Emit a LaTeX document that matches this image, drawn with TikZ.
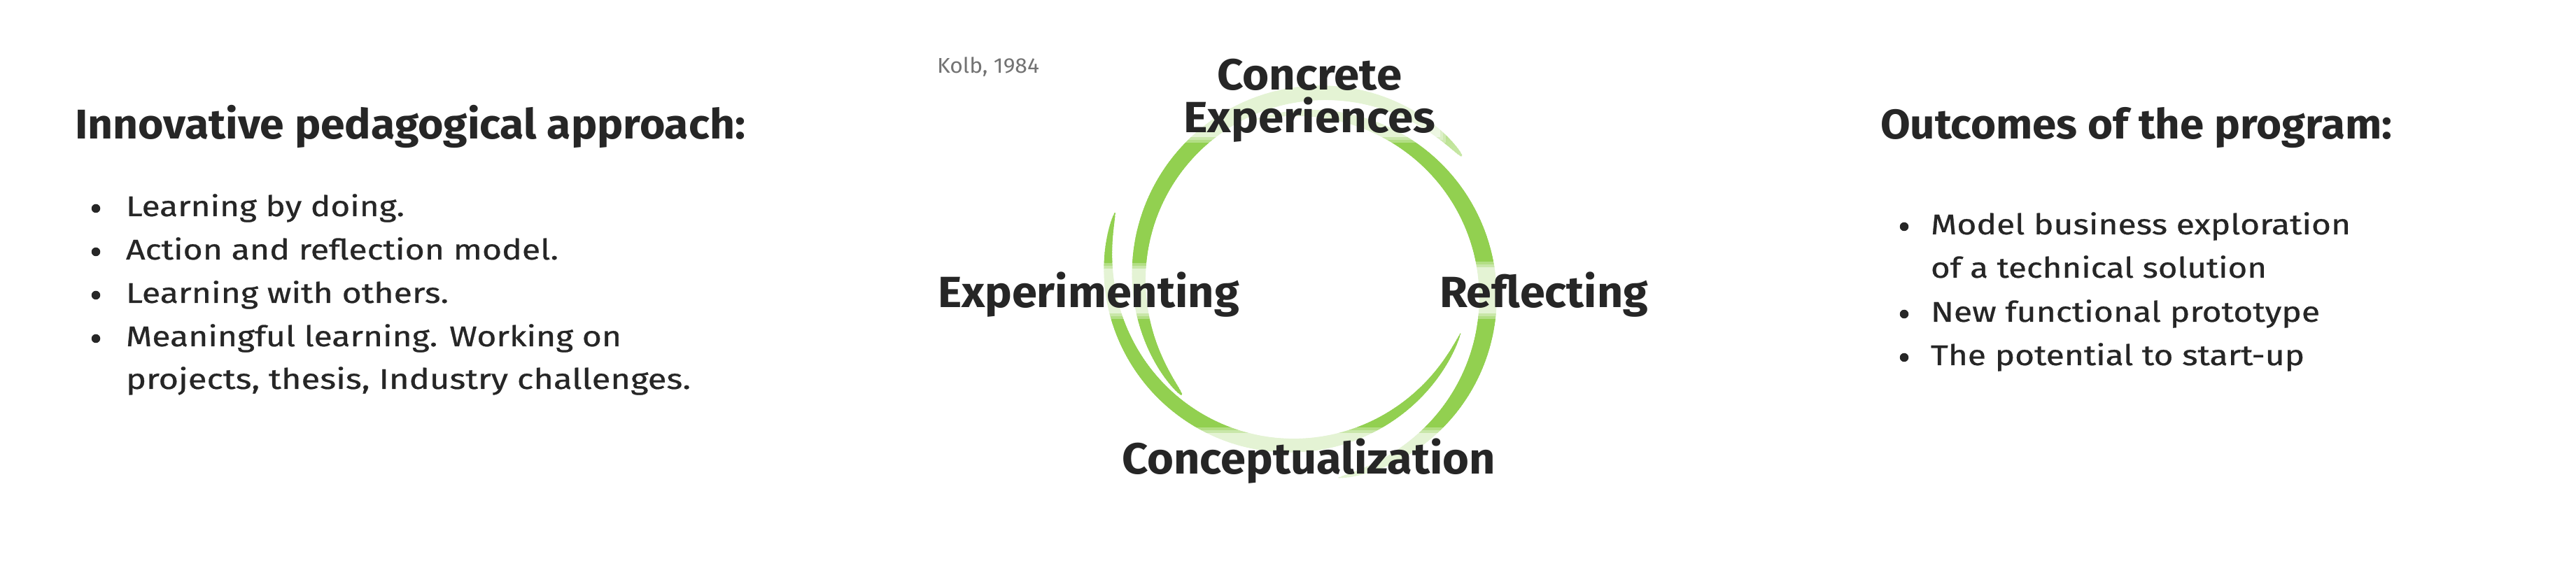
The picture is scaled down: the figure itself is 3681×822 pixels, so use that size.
\documentclass[tikz,border=0pt]{standalone}
\usepackage{fontspec}
\setmainfont{Fira Sans}
\usepackage{graphicx}
\definecolor{ink}{HTML}{262626}
\definecolor{leaf}{HTML}{92D050}
\definecolor{note}{HTML}{737373}
\newdimen\upx \upx=0.01cm
\newcommand{\fitw}[2]{\resizebox{#1\upx}{\height}{#2}}
% tapered brush stroke along a circle: cx cy r th0 th1 wmax skew power fadestart
\newcommand{\swoosh}[9]{%
  \foreach \i in {0,...,179}{%
    \pgfmathsetmacro{\sTa}{#4+(#5-#4)*(\i/180)}%
    \pgfmathsetmacro{\sTb}{#4+(#5-#4)*((\i+1)/180)}%
    \pgfmathsetmacro{\sTm}{(\i+0.5)/180}%
    \pgfmathsetmacro{\sW}{#6*(sin(180*(\sTm^#7)))^#8*0.28453}%
    \pgfmathtruncatemacro{\sC}{100-50*max(0,\sTm-#9)/(1.001-#9)}%
    \draw[line width=\sW pt, color=leaf!\sC!white, line cap=round]
      ({#1+#3*cos(\sTa)},{#2+#3*sin(\sTa)}) -- ({#1+#3*cos(\sTb)},{#2+#3*sin(\sTb)});
  }}
\newcommand{\halo}[4]{%
  \fill[white, opacity=0.3] (#1-4,#2-4) rectangle (#3+4,#4+4);
  \fill[white, opacity=0.3] (#1,#2) rectangle (#3,#4);
  \fill[white, opacity=0.5] (#1+4,#2+4) rectangle (#3-4,#4-4);}
\begin{document}
\begin{tikzpicture}[x=0.01cm, y=-0.01cm,
  hd/.style={inner sep=0, outer sep=0, anchor=base west, text=ink,
    font=\fontsize{16.9pt}{20pt}\selectfont\bfseries},
  bd/.style={inner sep=0, outer sep=0, anchor=base west, text=ink,
    font=\fontsize{11.56pt}{14pt}\selectfont\addfontfeature{FakeBold=0.6}},
  lbl/.style={inner sep=0, outer sep=0, anchor=base, text=ink,
    font=\fontsize{17.76pt}{20pt}\selectfont\bfseries},
  cite/.style={inner sep=0, outer sep=0, anchor=base west, text=note,
    font=\fontsize{8.67pt}{10pt}\selectfont},
  dot/.style={circle, fill=ink, inner sep=0, minimum size=12.5\upx}]
\fill[white] (0,0) rectangle (3681,822);
\useasboundingbox (0,0) rectangle (3681,822);

% brush ring (three tapered strokes)
\swoosh{1863.3}{424.7}{263}{254.5}{439.1}{25}{1.16}{0.6}{2}
\swoosh{1890.3}{395.7}{263}{140.4}{318.7}{23}{1}{0.4}{0.85}
\swoosh{1845.5}{374.9}{262}{195.5}{22.9}{21}{0.868}{0.6}{2}

% white halos behind the cycle labels
\halo{1665}{60}{2062}{200}
\halo{1325}{380}{1785}{452}
\halo{2040}{378}{2375}{452}
\halo{1590}{615}{2150}{700}

% left column
\node[hd] (h1) at (107,199) {\fitw{958}{Innovative pedagogical approach:}};
\node[dot] (d1) at (137,298) {};
\node[bd] (l1) at (180,309) {\fitw{398}{Learning by doing.}};
\node[dot] (d2) at (137,360) {};
\node[bd] (l2) at (180,371) {\fitw{618}{Action and reflection model.}};
\node[dot] (d3) at (137,422) {};
\node[bd] (l3) at (180,433) {\fitw{461}{Learning with others.}};
\node[dot] (d4) at (137,484) {};
\node[bd] (l4) at (180,495) {\fitw{708}{Meaningful learning. Working on}};
\node[bd] (l5) at (180,556) {\fitw{807}{projects, thesis, Industry challenges.}};

% right column
\node[hd] (h2) at (2687,199) {\fitw{731}{Outcomes of the program:}};
\node[dot] (d5) at (2721,324) {};
\node[bd] (r1) at (2759,335) {\fitw{600}{Model business exploration}};
\node[bd] (r2) at (2759,397) {\fitw{480}{of a technical solution}};
\node[dot] (d6) at (2721,449) {};
\node[bd] (r3) at (2759,460) {\fitw{556}{New functional prototype}};
\node[dot] (d7) at (2721,511) {};
\node[bd] (r4) at (2759,522) {\fitw{534}{The potential to start-up}};

% centre
\node[cite] (kolb) at (1339,105) {\fitw{146}{Kolb, 1984}};
\node[lbl] (ce1) at (1871,129) {\fitw{264}{Concrete}};
\node[lbl] (ce2) at (1871,190) {\fitw{360}{Experiences}};
\node[lbl] (exp) at (1555.5,440) {\fitw{431}{Experimenting}};
\node[lbl] (ref) at (2206,440) {\fitw{298}{Reflecting}};
\node[lbl] (con) at (1870,678) {\fitw{534}{Conceptualization}};
\end{tikzpicture}
\end{document}
